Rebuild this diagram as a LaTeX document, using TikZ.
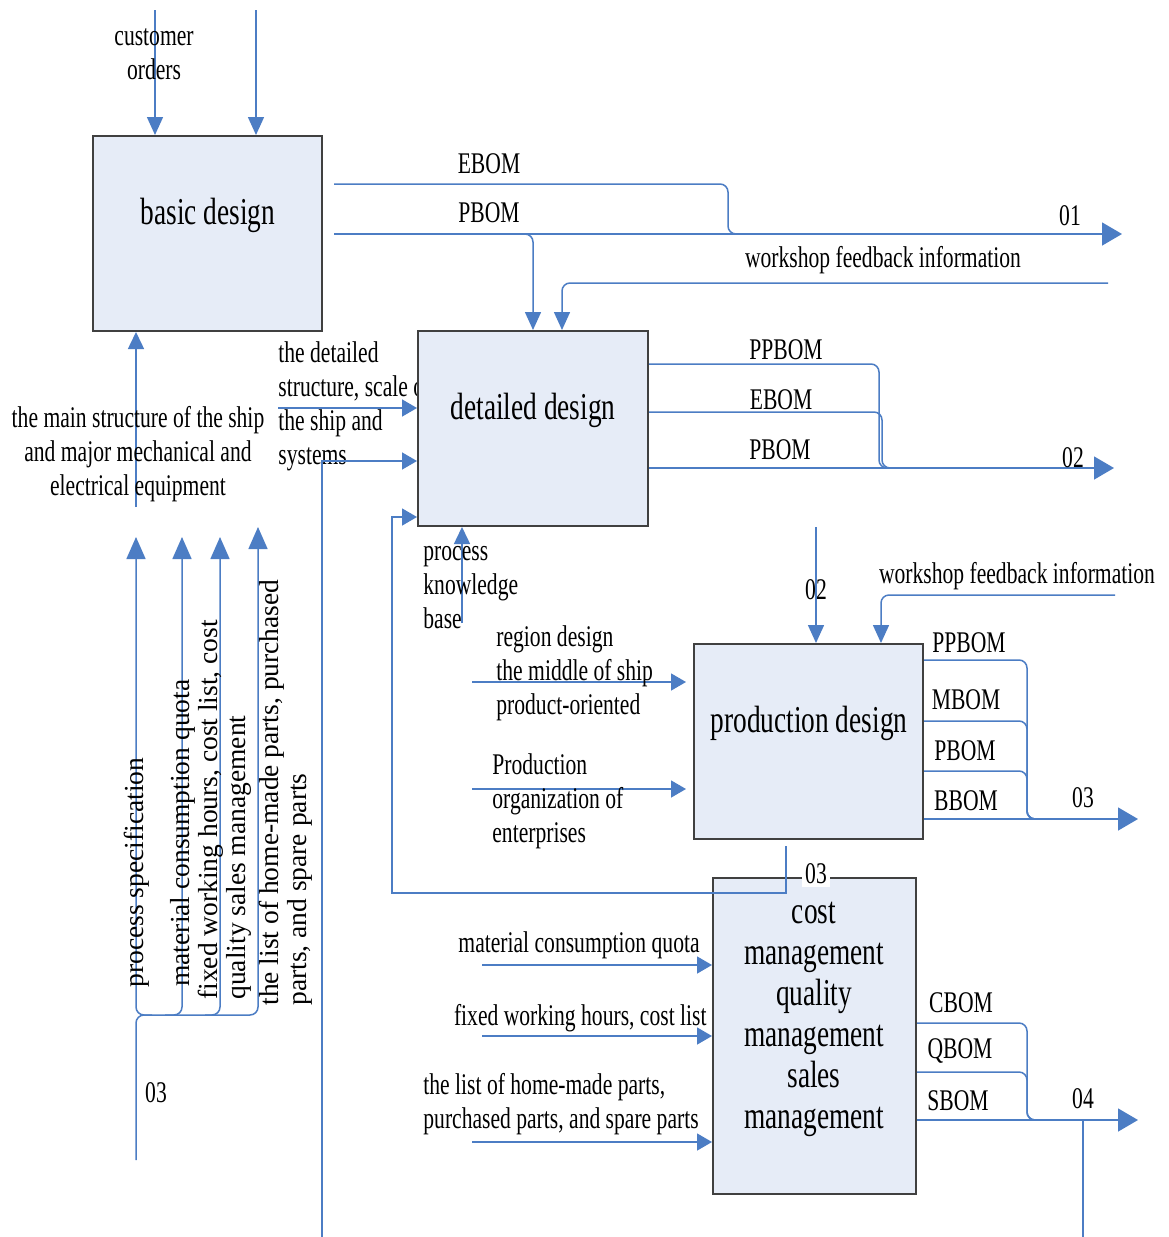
\documentclass[tikz,border=0pt]{standalone}
\usepackage{fontspec}
\setmainfont{Liberation Serif}[FakeStretch=0.72]
\newfontfamily\plainserif{Liberation Serif}
\usetikzlibrary{arrows.meta}
\definecolor{flowblue}{RGB}{76,125,196}
\definecolor{boxfill}{RGB}{230,236,247}
\definecolor{boxline}{RGB}{64,64,64}
\begin{document}
\begin{tikzpicture}[x=0.5pt,y=-0.5pt,
  flow/.style={draw=flowblue, line width=0.75pt},
  outtip/.style={-{Triangle[length=10pt,width=11.5pt,color=flowblue]}},
  intip/.style={-{Triangle[length=7.5pt,width=8.5pt,color=flowblue]}},
  downtip/.style={-{Triangle[length=9pt,width=8pt,color=flowblue]}},
  uptip/.style={-{Triangle[length=11pt,width=9.5pt,color=flowblue]}},
  smalluptip/.style={-{Triangle[length=8.5pt,width=8pt,color=flowblue]}},
  softturn/.style={rounded corners=4pt},
  lbl/.style={font=\fontsize{15}{17}\selectfont, inner sep=0pt, align=center},
  boxlbl/.style={font=\fontsize{19}{20.5}\selectfont, inner sep=0pt, align=center},
  rotlbl/.style={font=\plainserif\fontsize{13.75}{14}\selectfont, inner sep=0pt,
    rotate=90, anchor=west, align=left},
  activity/.style={draw=boxline, fill=boxfill, line width=1pt, inner sep=0pt}]

\fill[white] (0,0) rectangle (1168,1237);
\useasboundingbox (0,0) rectangle (1168,1237);

% text partly hidden behind the detailed design box
\node[lbl, anchor=west, align=left] (tDetIn) at (278,406)
  {the detailed\\structure, scale of\\the ship and\\systems};

% activity boxes
\node[activity, minimum width=114.5pt, minimum height=97.5pt] (bd) at (207.5,233.5) {};
\node[activity, minimum width=115pt, minimum height=97.5pt] (dd) at (533,428.5) {};
\node[activity, minimum width=114.5pt, minimum height=97.5pt] (pd) at (808.5,741.5) {};
\node[activity, minimum width=101.5pt, minimum height=158pt] (cm) at (814.5,1036) {};

% ---------- basic design ----------
\coordinate (ordersTop) at (155,10);
\coordinate (reqTop) at (256,10);
\draw[flow, downtip] (ordersTop) -- (ordersTop |- bd.north);
\draw[flow, downtip] (reqTop) -- (reqTop |- bd.north);

\coordinate (ebomStart) at (334,184);
\coordinate (pbomStart) at (334,234);
\coordinate (out01) at (1122,234);
\draw[flow, softturn] (ebomStart) -- (728,184) -- (728,234) -- (780,234);
\draw[flow, outtip] (pbomStart) -- (out01);
\coordinate (pbomDrop) at (533,234);
\draw[flow, softturn, downtip] (512,234) -- (pbomDrop) -- (pbomDrop |- dd.north);
\coordinate (feedStart1) at (1108,283);
\coordinate (feedDrop1) at (562,283);
\draw[flow, softturn, downtip] (feedStart1) -- (feedDrop1) -- (feedDrop1 |- dd.north);

\coordinate (mainUp) at (136,507);
\draw[flow, smalluptip] (mainUp) -- (mainUp |- bd.south);

% ---------- control inputs on the left ----------
\coordinate (feed03) at (136,1160);
\draw[flow, softturn, uptip] (feed03) -- (136,1015) -- (258,1015) -- (258,527);
\draw[flow, softturn, uptip] (152,1015) -- (136,1015) -- (136,537);
\draw[flow, softturn, uptip] (165,1015) -- (182,1015) -- (182,537);
\draw[flow, softturn, uptip] (205,1015) -- (220,1015) -- (220,537);

% ---------- detailed design inputs ----------
\coordinate (ddIn1) at (278,408);
\draw[flow, intip] (ddIn1) -- (ddIn1 -| dd.west);
\coordinate (ddFeed2) at (322,1237);
\coordinate (ddIn2) at (322,461);
\draw[flow, intip] (ddFeed2) -- (ddIn2) -- (ddIn2 -| dd.west);
\coordinate (loopStart) at (786,846);
\coordinate (loopEnd) at (392,517);
\draw[flow, intip] (loopStart) -- (786,893) -- (392,893) -- (loopEnd) -- (loopEnd -| dd.west);
\coordinate (pkbStart) at (462,623);
\draw[flow, smalluptip] (pkbStart) -- (pkbStart |- dd.south);

% ---------- detailed design outputs ----------
\coordinate (out02) at (1114,468);
\draw[flow, softturn] (dd.east |- 0,364) -- (879,364) -- (879,468) -- (920,468);
\draw[flow, softturn] (dd.east |- 0,412) -- (882,412) -- (882,468) -- (920,468);
\draw[flow, outtip] (dd.east |- out02) -- (out02);

% ---------- production design ----------
\coordinate (pdIn02) at (816,527);
\draw[flow, downtip] (pdIn02) -- (pdIn02 |- pd.north);
\coordinate (feedStart2) at (1115,595);
\coordinate (feedDrop2) at (881,595);
\draw[flow, softturn, downtip] (feedStart2) -- (feedDrop2) -- (feedDrop2 |- pd.north);
\coordinate (pdIn1) at (472,682);
\draw[flow, intip] (pdIn1) -- ([xshift=-3.5pt]pdIn1 -| pd.west);
\coordinate (pdIn2) at (472,789);
\draw[flow, intip] (pdIn2) -- ([xshift=-3.5pt]pdIn2 -| pd.west);

\coordinate (out03) at (1138,819);
\draw[flow, softturn] (pd.east |- 0,660) -- (1027,660) -- (1027,819) -- (1060,819);
\draw[flow, softturn] (pd.east |- 0,721) -- (1027,721) -- (1027,819) -- (1060,819);
\draw[flow, softturn] (pd.east |- 0,771) -- (1027,771) -- (1027,819) -- (1060,819);
\draw[flow, outtip] (pd.east |- out03) -- (out03);

% ---------- cost / quality / sales management ----------
\coordinate (cmIn1) at (482,965);
\draw[flow, intip] (cmIn1) -- (cmIn1 -| cm.west);
\coordinate (cmIn2) at (482,1036);
\draw[flow, intip] (cmIn2) -- (cmIn2 -| cm.west);
\coordinate (cmIn3) at (472,1142);
\draw[flow, intip] (cmIn3) -- (cmIn3 -| cm.west);

\coordinate (out04) at (1138,1120);
\draw[flow, softturn] (cm.east |- 0,1023) -- (1027,1023) -- (1027,1120) -- (1060,1120);
\draw[flow, softturn] (cm.east |- 0,1072) -- (1027,1072) -- (1027,1120) -- (1060,1120);
\draw[flow, outtip] (cm.east |- out04) -- (out04);
\coordinate (down04) at (1083,1237);
\draw[flow] (out04 -| down04) -- (down04);

% ---------- labels ----------
\node[lbl] (tCustomer) at (154,54.5) {customer\\orders};
\node[lbl] (tEbom1) at (489,164) {EBOM};
\node[lbl] (tPbom1) at (489,213) {PBOM};
\node[lbl] (t01) at (1070,216) {01};
\node[lbl] (tFeed1) at (883,260) {workshop feedback information};
\node[lbl] (tMain) at (138,454.5)
  {the main structure of the ship\\and major mechanical and\\electrical equipment};
\node[lbl, anchor=west, align=left] (tPkb) at (423,588) {process\\knowledge\\base};

\node[lbl] (tPpbom2) at (786,350) {PPBOM};
\node[lbl] (tEbom2) at (781,400) {EBOM};
\node[lbl] (tPbom2) at (780,450) {PBOM};
\node[lbl] (t02) at (1073,458) {02};

\node[lbl] (t02in) at (816,590) {02};
\node[lbl] (tFeed2) at (1017,576) {workshop feedback information};
\node[lbl, anchor=west, align=left] (tRegion) at (496,673.5)
  {region design\\the middle of ship\\product-oriented};
\node[lbl, anchor=west, align=left] (tOrg) at (492,801)
  {Production\\organization of\\enterprises};
\node[lbl] (tPpbom3) at (969,643) {PPBOM};
\node[lbl] (tMbom3) at (966,700) {MBOM};
\node[lbl] (tPbom3) at (965,751) {PBOM};
\node[lbl] (tBbom3) at (966,801) {BBOM};
\node[lbl] (t03) at (1083,798) {03};

\node[lbl, fill=white, inner sep=1.5pt] (t03top) at (816,874) {03};
\node[lbl, anchor=east] (tQuota) at (700,945) {material consumption quota};
\node[lbl, anchor=east] (tHours) at (707,1018) {fixed working hours, cost list};
\node[lbl, anchor=west, align=left] (tParts) at (423,1104)
  {the list of home-made parts,\\purchased parts, and spare parts};
\node[lbl] (tCbom) at (961,1003) {CBOM};
\node[lbl] (tQbom) at (960,1051) {QBOM};
\node[lbl] (tSbom) at (958,1101) {SBOM};
\node[lbl] (t04) at (1083,1099) {04};
\node[lbl] (t03feed) at (156,1093) {03};

% activity names
\node[boxlbl] (lBasic) at (208,215) {basic design};
\node[boxlbl] (lDetailed) at (533,410) {detailed design};
\node[boxlbl] (lProduction) at (809,723) {production design};
\node[boxlbl] (lCost) at (814,1019)
  {cost\\management\\quality\\management\\sales\\management};

% vertical control labels
\node[rotlbl] (rSpec) at (137,988) {process specification};
\node[rotlbl] (rQuota) at (183,987) {material consumption quota};
\node[rotlbl] (rHours) at (225,1000)
  {fixed working hours, cost list, cost\\quality sales management};
\node[rotlbl] (rParts) at (286,1006)
  {the list of home-made parts, purchased\\parts, and spare parts};
\end{tikzpicture}
\end{document}
